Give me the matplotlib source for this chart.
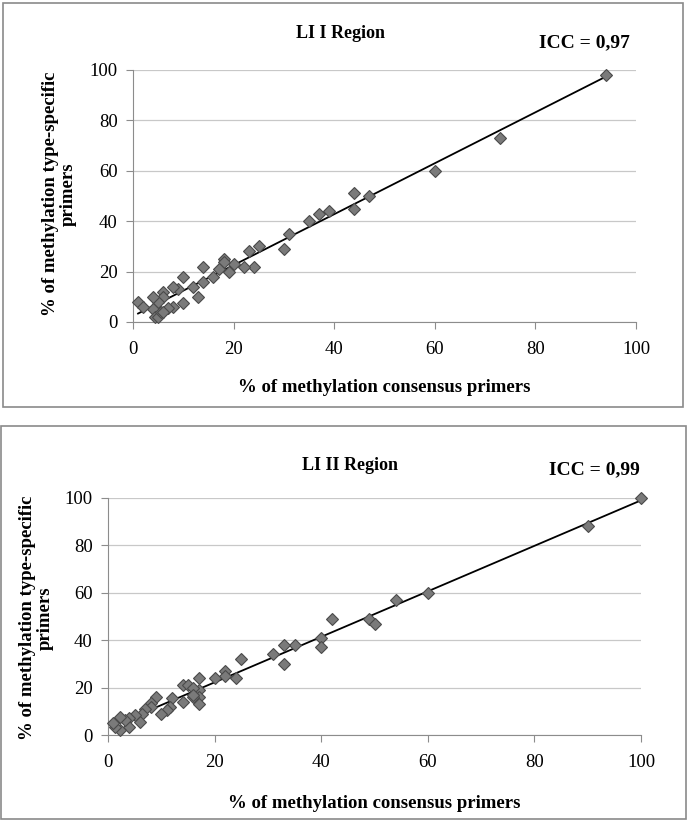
import numpy as np
import matplotlib
matplotlib.use("Agg")
import matplotlib.pyplot as plt
from matplotlib.patches import Rectangle

plt.rcParams['font.family'] = ['Liberation Serif', 'DejaVu Serif']

# LI I region: consensus vs type-specific primers (% methylation)
li1_x = [94, 73, 60, 47, 44, 44, 39, 37, 35, 31, 30, 25, 23, 24, 22, 20, 19, 18, 18,
         17, 16, 14, 14, 13, 12, 10, 10, 9, 8, 8, 7, 6, 6, 5, 4, 4, 4.4, 5, 5.5, 6, 1, 2]
li1_y = [98, 73, 60, 50, 51, 45, 44, 43, 40, 35, 29, 30, 28, 22, 22, 23, 20, 25, 24,
         21, 18, 22, 16, 10, 14, 18, 7.5, 13, 14, 6, 5.5, 12, 10, 8, 10, 5, 2, 2, 4, 4, 8, 6]

# LI II region
li2_x = [100, 90, 60, 54, 49, 50, 42, 40, 40, 35, 33, 33, 31, 25, 22, 22, 24, 20,
         17, 17, 17, 16, 14, 12, 11.6, 11, 10, 9, 8, 8, 7, 6.4, 6, 5, 4, 4, 3.2, 2.3,
         2.3, 1.3, 1, 14, 15, 16, 17, 16]
li2_y = [100, 88, 60, 57, 49, 47, 49, 41, 37, 38, 38, 30, 34, 32, 27, 25, 24, 24,
         19, 16, 13, 16, 14, 15.6, 12, 10.5, 9, 16, 13.5, 12, 11, 9, 5.5, 8.4, 7, 3.4,
         6.3, 7.6, 2.1, 3.4, 5, 21, 21, 20, 24, 17]

ticks = [0, 20, 40, 60, 80, 100]

W, H = 689, 824
fig = plt.figure(figsize=(W / 100, H / 100), dpi=100)


def fx(px):
    return px / W


def fy(py):
    return 1 - py / H


panels = [
    # data, axes box (px: left, right, top, bottom), frame, title, icc, ylabel pos, xlabel y
    (li1_x, li1_y, (133, 636, 70, 322), (3, 683, 3, 407), "LI I Region", (341, 33),
     "ICC = 0,97", (584, 43), (59, 194), 387),
    (li2_x, li2_y, (108, 641, 498, 735), (1, 686, 426, 819), "LI II Region", (350, 466),
     "ICC = 0,99", (594, 470), (36, 618), 804),
]

for x, y, box, frame, title, tpos, icc, ipos, ylpos, xly in panels:
    l, r, t, b = box
    ax = fig.add_axes([fx(l), fy(b), fx(r) - fx(l), fy(t) - fy(b)])
    ax.set_xlim(0, 100)
    ax.set_ylim(0, 100)
    ax.set_xticks(ticks)
    ax.set_yticks(ticks)
    ax.yaxis.grid(True, color="#c8c8c8", lw=0.9)
    ax.set_axisbelow(True)
    for s in ["top", "right"]:
        ax.spines[s].set_visible(False)
    for s in ["left", "bottom"]:
        ax.spines[s].set_color("#8c8c8c")
    ax.tick_params(direction="out", length=5, color="#8c8c8c", labelsize=13.5)
    ax.tick_params(axis="x", pad=9)
    ax.tick_params(axis="y", pad=6)

    xa = np.array(x)
    ya = np.array(y)
    k, c = np.polyfit(xa, ya, 1)
    xs = np.array([xa.min(), xa.max()])
    ax.plot(xs, k * xs + c, color="black", lw=1.3, zorder=2)
    ax.plot(xa, ya, "D", ms=6.5, mfc="#7a7a7a", mec="#4a4a4a", mew=0.8, zorder=3,
            clip_on=False)

    fig.text(fx(tpos[0]), fy(tpos[1]), title, ha="center", va="center",
             fontsize=13, fontweight="bold")
    fig.text(fx(ipos[0]), fy(ipos[1]), icc, ha="center", va="center",
             fontsize=14, fontweight="bold")
    fig.text(fx(ylpos[0]), fy(ylpos[1]), "% of methylation type-specific\nprimers",
             rotation=90, ha="center", va="center", multialignment="center",
             fontsize=13.5, fontweight="bold", linespacing=1.05)
    fig.text(fx((l + r) / 2), fy(xly), "% of methylation consensus primers",
             ha="center", va="center", fontsize=13.5, fontweight="bold")

    fl, fr, ft, fb = frame
    fig.patches.append(Rectangle((fx(fl), fy(fb)), fx(fr) - fx(fl), fy(ft) - fy(fb),
                                 transform=fig.transFigure, fill=False,
                                 edgecolor="#8a8a8a", lw=1.2))

fig.savefig("out.png", dpi=100)
